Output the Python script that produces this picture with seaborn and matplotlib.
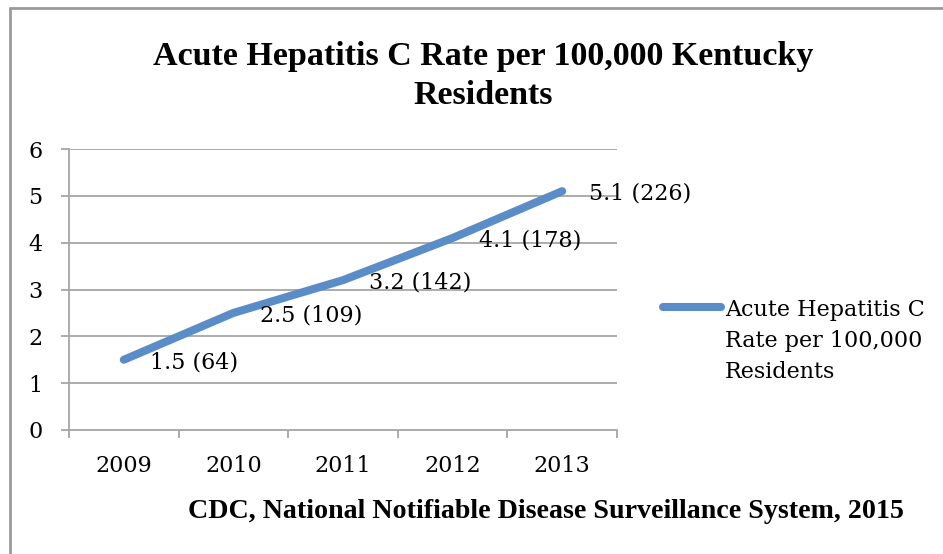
import matplotlib
matplotlib.use("Agg")
import matplotlib.pyplot as plt
from matplotlib.lines import Line2D
import seaborn as sns
import pandas as pd

years = ["2009", "2010", "2011", "2012", "2013"]
rates = [1.5, 2.5, 3.2, 4.1, 5.1]
cases = [64, 109, 142, 178, 226]
y_ticks = [0, 1, 2, 3, 4, 5, 6]
series_label = "Acute Hepatitis C\nRate per 100,000\nResidents"
title = "Acute Hepatitis C Rate per 100,000 Kentucky\nResidents"
source = "CDC, National Notifiable Disease Surveillance System, 2015"

sns.set_theme(style="white")
plt.rcParams["font.family"] = ["DejaVu Serif"]
bold_family = ["Liberation Serif", "DejaVu Serif"]

W, H = 943, 554
fig = plt.figure(figsize=(W / 100, H / 100), dpi=100)
ax = fig.add_axes([69 / W, 1 - 430 / H, (617 - 69) / W, (430 - 149) / H])

df = pd.DataFrame({"pos": range(len(years)), "rate": rates})
line_color = "#5A8CC8"
sns.lineplot(data=df, x="pos", y="rate", ax=ax, color=line_color,
             linewidth=5.8, solid_capstyle="round", legend=False)

grid_color = "#A6A6A6"
ax.set_xlim(-0.5, len(years) - 0.5)
ax.set_ylim(0, 6)
ax.set_yticks(y_ticks)
ax.set_yticklabels([str(t) for t in y_ticks])
for t in y_ticks[1:]:
    ax.axhline(t, color=grid_color, linewidth=1.3, zorder=0)

# category boundaries carry the tick marks, centers carry the labels
ax.set_xticks([i - 0.5 for i in range(len(years) + 1)])
ax.set_xticklabels([])
ax.set_xticks(range(len(years)), minor=True)
ax.set_xticklabels(years, minor=True)
ax.tick_params(axis="x", which="major", direction="out", length=6,
               width=1.3, color=grid_color, bottom=True)
ax.tick_params(axis="x", which="minor", length=0, pad=18, labelsize=16,
               labelcolor="black")
ax.tick_params(axis="y", direction="out", length=6, width=1.3,
               color=grid_color, left=True, pad=13, labelsize=16,
               labelcolor="black")

for side in ["top", "right"]:
    ax.spines[side].set_visible(False)
for side in ["left", "bottom"]:
    ax.spines[side].set_color(grid_color)
    ax.spines[side].set_linewidth(1.3)
ax.set_xlabel("")
ax.set_ylabel("")

for i, (r, c) in enumerate(zip(rates, cases)):
    ax.annotate(f"{r} ({c})", xy=(i, r), xytext=(19, -2),
                textcoords="offset points", ha="left", va="center",
                fontsize=16, color="black")

fig.text(483 / W, 1 - 76 / H, title, ha="center", va="center",
         fontsize=24.5, fontweight="bold", family=bold_family,
         linespacing=1.3, color="black")

# legend entry: swatch beside the first line of the label
fig.add_artist(Line2D([663 / W, 721 / W], [1 - 307 / H, 1 - 307 / H],
                      transform=fig.transFigure, color=line_color,
                      linewidth=5.8, solid_capstyle="round"))
fig.text(725 / W, 1 - 341 / H, series_label, ha="left", va="center",
         fontsize=16, linespacing=1.55, color="black")

fig.text(188 / W, 1 - 512 / H, source, ha="left", va="center",
         fontsize=20.2, fontweight="bold", family=bold_family, color="black")

# outer chart border
border = "#9A9A9A"
fig.add_artist(Line2D([9.5 / W, 1], [1 - 7.5 / H, 1 - 7.5 / H],
                      transform=fig.transFigure, color=border, linewidth=2))
fig.add_artist(Line2D([9.5 / W, 9.5 / W], [0, 1 - 7.5 / H],
                      transform=fig.transFigure, color=border, linewidth=2))

fig.savefig("out.png", dpi=100, facecolor="white")
